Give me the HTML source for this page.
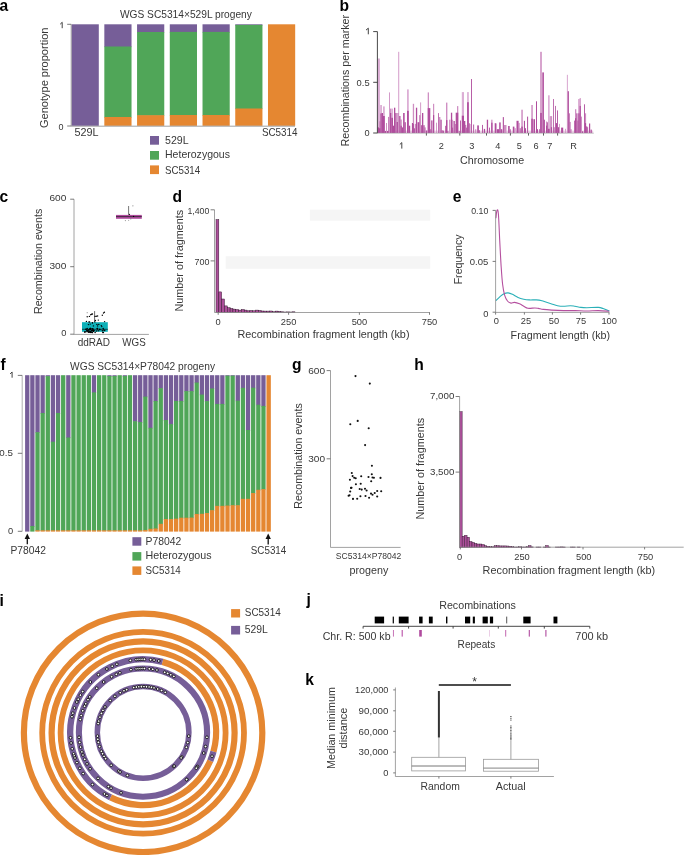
<!DOCTYPE html>
<html><head><meta charset="utf-8"><style>
html,body{margin:0;padding:0;background:#fff;}
body{width:685px;height:855px;overflow:hidden;}
svg{display:block;font-family:"Liberation Sans",sans-serif;-webkit-font-smoothing:antialiased;will-change:transform;}
</style></head><body>
<svg width="685" height="855" viewBox="0 0 685 855" fill="#383838">
<text x="-0.5" y="11" font-size="15.6" font-weight="bold" fill="#000">a</text>
<text x="185.9" y="18.2" font-size="10.6" text-anchor="middle" textLength="132" lengthAdjust="spacingAndGlyphs">WGS SC5314×529L progeny</text>
<text transform="translate(48.4 77.8) rotate(-90)" x="0" y="0" text-anchor="middle" font-size="10.6" textLength="100.4" lengthAdjust="spacingAndGlyphs">Genotype proportion</text>
<rect x="71.6" y="24.3" width="27.2" height="101.5" fill="#765e98"/>
<rect x="104.33" y="24.3" width="27.2" height="22.8" fill="#765e98"/>
<rect x="104.33" y="46.5" width="27.2" height="71.1" fill="#50a658"/>
<rect x="104.33" y="117" width="27.2" height="8.8" fill="#e58731"/>
<rect x="137.06" y="24.3" width="27.2" height="8.3" fill="#765e98"/>
<rect x="137.06" y="32" width="27.2" height="83.8" fill="#50a658"/>
<rect x="137.06" y="115.2" width="27.2" height="10.6" fill="#e58731"/>
<rect x="169.79" y="24.3" width="27.2" height="8.2" fill="#765e98"/>
<rect x="169.79" y="31.9" width="27.2" height="83.7" fill="#50a658"/>
<rect x="169.79" y="115" width="27.2" height="10.8" fill="#e58731"/>
<rect x="202.52" y="24.3" width="27.2" height="8.2" fill="#765e98"/>
<rect x="202.52" y="31.9" width="27.2" height="83.7" fill="#50a658"/>
<rect x="202.52" y="115" width="27.2" height="10.8" fill="#e58731"/>
<rect x="235.25" y="24.3" width="27.2" height="1.2" fill="#765e98"/>
<rect x="235.25" y="24.9" width="27.2" height="84.2" fill="#50a658"/>
<rect x="235.25" y="108.5" width="27.2" height="17.3" fill="#e58731"/>
<rect x="267.98" y="24.3" width="27.2" height="101.5" fill="#e58731"/>
<line x1="71.2" y1="24.3" x2="71.2" y2="126.2" stroke="#8a8a8a" stroke-width="0.8"/>
<line x1="67.2" y1="24.3" x2="71.2" y2="24.3" stroke="#5a5a5a" stroke-width="0.8"/>
<line x1="67.2" y1="126" x2="71.2" y2="126" stroke="#5a5a5a" stroke-width="0.8"/>
<line x1="71.2" y1="126.2" x2="295" y2="126.2" stroke="#8a8a8a" stroke-width="0.8"/>
<path d="M60.2 24.2 L62.2 22.3 L62.2 28.2" fill="none" stroke="#383838" stroke-width="0.95" stroke-linejoin="miter"/>
<text x="63.5" y="129.6" font-size="9" text-anchor="end">0</text>
<text x="74.4" y="135.6" font-size="10.6" textLength="24.1" lengthAdjust="spacingAndGlyphs">529L</text>
<text x="261.9" y="135.6" font-size="10.6" textLength="35.7" lengthAdjust="spacingAndGlyphs">SC5314</text>
<rect x="150" y="136" width="9" height="8.7" fill="#765e98"/>
<text x="165" y="144.3" font-size="10.6" textLength="23.6" lengthAdjust="spacingAndGlyphs">529L</text>
<rect x="150" y="151" width="9" height="8.7" fill="#50a658"/>
<text x="165" y="157.9" font-size="10.1" textLength="65" lengthAdjust="spacingAndGlyphs">Heterozygous</text>
<rect x="150" y="165.4" width="9" height="8.7" fill="#e58731"/>
<text x="165" y="173.7" font-size="10.6" textLength="35.2" lengthAdjust="spacingAndGlyphs">SC5314</text>
<text x="339.4" y="10.8" font-size="15.6" font-weight="bold" fill="#000">b</text>
<text transform="translate(349 80.7) rotate(-90)" x="0" y="0" text-anchor="middle" font-size="10.7" textLength="131.6" lengthAdjust="spacingAndGlyphs">Recombinations per marker</text>
<rect x="377.6" y="130.6" width="215.6" height="2.5" fill="#ead0e5"/>
<rect x="377.6" y="58.5" width="2.3" height="74.5" fill="#dcaed5"/>
<rect x="379" y="121.3" width="1.4" height="11.7" fill="#cf8fc3"/>
<rect x="380.4" y="105" width="1.3" height="28" fill="#cf8fc3"/>
<rect x="383" y="106.4" width="1.8" height="26.6" fill="#dcaed5"/>
<rect x="386" y="123" width="1" height="10" fill="#cf8fc3"/>
<rect x="389.1" y="92.4" width="0.9" height="40.6" fill="#cf8fc3"/>
<rect x="390" y="108.6" width="1.3" height="24.4" fill="#cf8fc3"/>
<rect x="391.3" y="108.6" width="1.7" height="24.4" fill="#dcaed5"/>
<rect x="398.3" y="51.8" width="0.9" height="81.2" fill="#cf8fc3"/>
<rect x="400.5" y="119.5" width="1.3" height="13.5" fill="#cf8fc3"/>
<rect x="403.2" y="113" width="1.3" height="20" fill="#cf8fc3"/>
<rect x="407" y="89.4" width="1.8" height="43.6" fill="#dcaed5"/>
<rect x="412.8" y="103.8" width="1.3" height="29.2" fill="#cf8fc3"/>
<rect x="415" y="123.9" width="1.3" height="9.1" fill="#cf8fc3"/>
<rect x="417.2" y="122.2" width="0.8" height="10.8" fill="#cf8fc3"/>
<rect x="420.2" y="102.4" width="0.9" height="30.6" fill="#cf8fc3"/>
<rect x="427.7" y="92.4" width="1.3" height="40.6" fill="#cf8fc3"/>
<rect x="433" y="103.8" width="1.2" height="29.2" fill="#cf8fc3"/>
<rect x="436" y="122.7" width="0.9" height="10.3" fill="#cf8fc3"/>
<rect x="439" y="117" width="1.4" height="16" fill="#cf8fc3"/>
<rect x="446" y="102.6" width="1.4" height="30.4" fill="#cf8fc3"/>
<rect x="449.1" y="119.7" width="1.4" height="13.3" fill="#cf8fc3"/>
<rect x="452.2" y="119.7" width="0.9" height="13.3" fill="#cf8fc3"/>
<rect x="454.8" y="124" width="1.3" height="9" fill="#cf8fc3"/>
<rect x="457" y="106.1" width="1.3" height="26.9" fill="#cf8fc3"/>
<rect x="461.8" y="92.1" width="2.2" height="40.9" fill="#dcaed5"/>
<rect x="467.1" y="92.1" width="1.7" height="40.9" fill="#dcaed5"/>
<rect x="469.7" y="124" width="0.9" height="9" fill="#cf8fc3"/>
<rect x="475" y="129.3" width="1.3" height="3.7" fill="#cf8fc3"/>
<rect x="491.2" y="119.7" width="1.3" height="13.3" fill="#cf8fc3"/>
<rect x="496" y="123.4" width="0.8" height="9.6" fill="#cf8fc3"/>
<rect x="503.9" y="125" width="1.1" height="8" fill="#cf8fc3"/>
<rect x="505" y="125" width="1.5" height="8" fill="#cf8fc3"/>
<rect x="514.4" y="128.2" width="1.6" height="4.8" fill="#dcaed5"/>
<rect x="518.6" y="122.9" width="1.1" height="10.1" fill="#cf8fc3"/>
<rect x="521.3" y="109.7" width="1.5" height="23.3" fill="#cf8fc3"/>
<rect x="531.3" y="105" width="1.5" height="28" fill="#cf8fc3"/>
<rect x="540.2" y="51.8" width="1.6" height="81.2" fill="#cf8fc3"/>
<rect x="546" y="121.5" width="1.2" height="11.5" fill="#cf8fc3"/>
<rect x="548" y="95.3" width="1.7" height="37.7" fill="#dcaed5"/>
<rect x="549.7" y="116.1" width="1.2" height="16.9" fill="#cf8fc3"/>
<rect x="550.9" y="116.1" width="1.2" height="16.9" fill="#cf8fc3"/>
<rect x="559.1" y="123.9" width="0.8" height="9.1" fill="#cf8fc3"/>
<rect x="565.2" y="128.8" width="0.8" height="4.2" fill="#cf8fc3"/>
<rect x="566.9" y="74.8" width="0.8" height="58.2" fill="#cf8fc3"/>
<rect x="570.5" y="129.2" width="1.2" height="3.8" fill="#cf8fc3"/>
<rect x="575" y="109.2" width="1.3" height="23.8" fill="#cf8fc3"/>
<rect x="578.3" y="99" width="1.3" height="34" fill="#cf8fc3"/>
<rect x="579.6" y="98.1" width="1.2" height="34.9" fill="#cf8fc3"/>
<rect x="580.8" y="116.6" width="1.2" height="16.4" fill="#cf8fc3"/>
<rect x="584.9" y="113.3" width="1.2" height="19.7" fill="#cf8fc3"/>
<rect x="377.8" y="127.4" width="1.2" height="5.6" fill="#b04d9d"/>
<rect x="379" y="128.3" width="1.4" height="4.7" fill="#b04d9d"/>
<rect x="380.4" y="113.4" width="1.3" height="19.6" fill="#b04d9d"/>
<rect x="381.7" y="113" width="1.3" height="20" fill="#b04d9d"/>
<rect x="383" y="116" width="1.8" height="17" fill="#b04d9d"/>
<rect x="384.8" y="131" width="1.2" height="2" fill="#b04d9d"/>
<rect x="387" y="131" width="1.3" height="2" fill="#b04d9d"/>
<rect x="388.3" y="116.9" width="0.8" height="16.1" fill="#b04d9d"/>
<rect x="390" y="113" width="1.3" height="20" fill="#b04d9d"/>
<rect x="391.3" y="117.8" width="1.7" height="15.2" fill="#b04d9d"/>
<rect x="393" y="125.7" width="1.4" height="7.3" fill="#b04d9d"/>
<rect x="394" y="107.7" width="1.3" height="25.3" fill="#b04d9d"/>
<rect x="395.3" y="113" width="1.3" height="20" fill="#b04d9d"/>
<rect x="396.6" y="122" width="1.3" height="11" fill="#b04d9d"/>
<rect x="397.5" y="113" width="0.8" height="20" fill="#b04d9d"/>
<rect x="399.2" y="116" width="1.3" height="17" fill="#b04d9d"/>
<rect x="400.5" y="125.7" width="1.3" height="7.3" fill="#b04d9d"/>
<rect x="401.8" y="127.4" width="1.4" height="5.6" fill="#b04d9d"/>
<rect x="403.2" y="113" width="1.3" height="20" fill="#b04d9d"/>
<rect x="404.5" y="122.2" width="1.3" height="10.8" fill="#b04d9d"/>
<rect x="407" y="110.8" width="1.8" height="22.2" fill="#b04d9d"/>
<rect x="408.8" y="125.7" width="1.4" height="7.3" fill="#b04d9d"/>
<rect x="411.9" y="123" width="1.3" height="10" fill="#b04d9d"/>
<rect x="413.2" y="124" width="0.9" height="9" fill="#b04d9d"/>
<rect x="414.1" y="128.3" width="0.9" height="4.7" fill="#b04d9d"/>
<rect x="415.9" y="107.7" width="1.3" height="25.3" fill="#b04d9d"/>
<rect x="418" y="122.2" width="1.4" height="10.8" fill="#b04d9d"/>
<rect x="419.4" y="115.1" width="0.8" height="17.9" fill="#b04d9d"/>
<rect x="421.1" y="125.2" width="0.9" height="7.8" fill="#b04d9d"/>
<rect x="422" y="113" width="1.3" height="20" fill="#b04d9d"/>
<rect x="423.3" y="125.2" width="1.3" height="7.8" fill="#b04d9d"/>
<rect x="424.6" y="127.4" width="0.9" height="5.6" fill="#b04d9d"/>
<rect x="426" y="130.5" width="1.2" height="2.5" fill="#b04d9d"/>
<rect x="427.7" y="108.1" width="1.3" height="24.9" fill="#b04d9d"/>
<rect x="429" y="108.1" width="1.3" height="24.9" fill="#b04d9d"/>
<rect x="430.3" y="129.2" width="0.9" height="3.8" fill="#b04d9d"/>
<rect x="431.2" y="120.4" width="1.3" height="12.6" fill="#b04d9d"/>
<rect x="433" y="115.1" width="1.2" height="17.9" fill="#b04d9d"/>
<rect x="438.2" y="113.1" width="0.8" height="19.9" fill="#b04d9d"/>
<rect x="440.4" y="119.7" width="1.3" height="13.3" fill="#b04d9d"/>
<rect x="441.7" y="130.2" width="0.9" height="2.8" fill="#b04d9d"/>
<rect x="442.6" y="130.6" width="1.3" height="2.4" fill="#b04d9d"/>
<rect x="445.2" y="125.8" width="0.8" height="7.2" fill="#b04d9d"/>
<rect x="446" y="120.1" width="1.4" height="12.9" fill="#b04d9d"/>
<rect x="447.4" y="131" width="0.9" height="2" fill="#b04d9d"/>
<rect x="450.9" y="112.7" width="1.3" height="20.3" fill="#b04d9d"/>
<rect x="452.2" y="127.6" width="0.9" height="5.4" fill="#b04d9d"/>
<rect x="453.5" y="121" width="1.3" height="12" fill="#b04d9d"/>
<rect x="455.7" y="112.7" width="1.3" height="20.3" fill="#b04d9d"/>
<rect x="457" y="112.7" width="1.3" height="20.3" fill="#b04d9d"/>
<rect x="458.8" y="131" width="0.9" height="2" fill="#b04d9d"/>
<rect x="460.1" y="120.5" width="0.9" height="12.5" fill="#b04d9d"/>
<rect x="461.8" y="115.7" width="2.2" height="17.3" fill="#b04d9d"/>
<rect x="464" y="121" width="1.3" height="12" fill="#b04d9d"/>
<rect x="465.3" y="124.9" width="0.9" height="8.1" fill="#b04d9d"/>
<rect x="466.2" y="127.6" width="0.9" height="5.4" fill="#b04d9d"/>
<rect x="467.1" y="102.2" width="1.7" height="30.8" fill="#b04d9d"/>
<rect x="468.8" y="123.2" width="0.9" height="9.8" fill="#b04d9d"/>
<rect x="471" y="79" width="0.9" height="54" fill="#b04d9d"/>
<rect x="473.2" y="124.5" width="0.9" height="8.5" fill="#b04d9d"/>
<rect x="477.2" y="125.4" width="1.7" height="7.6" fill="#b04d9d"/>
<rect x="478.9" y="130.2" width="0.9" height="2.8" fill="#b04d9d"/>
<rect x="482" y="124.9" width="0.9" height="8.1" fill="#b04d9d"/>
<rect x="483.8" y="128.9" width="1.3" height="4.1" fill="#b04d9d"/>
<rect x="486.8" y="119.7" width="1.3" height="13.3" fill="#b04d9d"/>
<rect x="489" y="127.6" width="0.9" height="5.4" fill="#b04d9d"/>
<rect x="491.2" y="122.7" width="1.3" height="10.3" fill="#b04d9d"/>
<rect x="494.7" y="123.2" width="1.3" height="9.8" fill="#b04d9d"/>
<rect x="496.8" y="129.2" width="2.4" height="3.8" fill="#b04d9d"/>
<rect x="499.2" y="122.4" width="1.5" height="10.6" fill="#b04d9d"/>
<rect x="500.7" y="129.2" width="1.6" height="3.8" fill="#b04d9d"/>
<rect x="502.8" y="117.1" width="1.1" height="15.9" fill="#b04d9d"/>
<rect x="508.1" y="126" width="1.6" height="7" fill="#b04d9d"/>
<rect x="509.7" y="129.2" width="1" height="3.8" fill="#b04d9d"/>
<rect x="512.8" y="126.6" width="1.6" height="6.4" fill="#b04d9d"/>
<rect x="516.5" y="120.8" width="2.1" height="12.2" fill="#b04d9d"/>
<rect x="519.7" y="128.2" width="1" height="4.8" fill="#b04d9d"/>
<rect x="521.3" y="126.6" width="1.5" height="6.4" fill="#b04d9d"/>
<rect x="523.9" y="120.8" width="1.1" height="12.2" fill="#b04d9d"/>
<rect x="525" y="128.2" width="1" height="4.8" fill="#b04d9d"/>
<rect x="527.1" y="116.6" width="1" height="16.4" fill="#b04d9d"/>
<rect x="531.3" y="118.7" width="1.5" height="14.3" fill="#b04d9d"/>
<rect x="533.4" y="119.2" width="1.6" height="13.8" fill="#b04d9d"/>
<rect x="536" y="101.3" width="1" height="31.7" fill="#b04d9d"/>
<rect x="537" y="129.2" width="1" height="3.8" fill="#b04d9d"/>
<rect x="539.2" y="129.2" width="1" height="3.8" fill="#b04d9d"/>
<rect x="540.2" y="112.9" width="1.6" height="20.1" fill="#b04d9d"/>
<rect x="542.3" y="72.4" width="1.6" height="60.6" fill="#b04d9d"/>
<rect x="543.9" y="119.7" width="1" height="13.3" fill="#b04d9d"/>
<rect x="546" y="125.6" width="1.2" height="7.4" fill="#b04d9d"/>
<rect x="547.2" y="122.3" width="0.8" height="10.7" fill="#b04d9d"/>
<rect x="548" y="128.8" width="1.7" height="4.2" fill="#b04d9d"/>
<rect x="550.9" y="127.2" width="1.2" height="5.8" fill="#b04d9d"/>
<rect x="553" y="99" width="0.8" height="34" fill="#b04d9d"/>
<rect x="553.8" y="127.2" width="0.8" height="5.8" fill="#b04d9d"/>
<rect x="555" y="105.9" width="0.8" height="27.1" fill="#b04d9d"/>
<rect x="555.8" y="123.1" width="1.2" height="9.9" fill="#b04d9d"/>
<rect x="557" y="110.4" width="0.9" height="22.6" fill="#b04d9d"/>
<rect x="557.9" y="127.2" width="1.2" height="5.8" fill="#b04d9d"/>
<rect x="561.1" y="127.6" width="2.1" height="5.4" fill="#b04d9d"/>
<rect x="567.7" y="91.2" width="1.2" height="41.8" fill="#b04d9d"/>
<rect x="568.9" y="113.3" width="0.8" height="19.7" fill="#b04d9d"/>
<rect x="569.7" y="121.9" width="0.8" height="11.1" fill="#b04d9d"/>
<rect x="574.2" y="120.6" width="0.8" height="12.4" fill="#b04d9d"/>
<rect x="575" y="118.2" width="1.3" height="14.8" fill="#b04d9d"/>
<rect x="576.3" y="113.3" width="1.2" height="19.7" fill="#b04d9d"/>
<rect x="577.5" y="120.6" width="0.8" height="12.4" fill="#b04d9d"/>
<rect x="578.3" y="113.3" width="1.3" height="19.7" fill="#b04d9d"/>
<rect x="579.6" y="105.9" width="1.2" height="27.1" fill="#b04d9d"/>
<rect x="582" y="131.3" width="1.2" height="1.7" fill="#b04d9d"/>
<rect x="584" y="104.3" width="0.9" height="28.7" fill="#b04d9d"/>
<rect x="584.9" y="123.1" width="1.2" height="9.9" fill="#b04d9d"/>
<rect x="586.1" y="126.4" width="1.2" height="6.6" fill="#b04d9d"/>
<rect x="587.3" y="127.2" width="0.8" height="5.8" fill="#b04d9d"/>
<rect x="589" y="123.5" width="1.2" height="9.5" fill="#b04d9d"/>
<rect x="590.6" y="129.6" width="1.2" height="3.4" fill="#b04d9d"/>
<line x1="377.4" y1="31.6" x2="377.4" y2="133.2" stroke="#333" stroke-width="0.9"/>
<line x1="373.2" y1="31.6" x2="377.4" y2="31.6" stroke="#333" stroke-width="0.9"/>
<line x1="373.2" y1="82.3" x2="377.4" y2="82.3" stroke="#333" stroke-width="0.9"/>
<line x1="373.2" y1="133" x2="377.4" y2="133" stroke="#333" stroke-width="0.9"/>
<line x1="377.4" y1="133.2" x2="593.8" y2="133.2" stroke="#9a9a9a" stroke-width="0.6"/>
<line x1="426.4" y1="133.2" x2="426.4" y2="135.6" stroke="#333" stroke-width="0.8"/>
<line x1="459.8" y1="133.2" x2="459.8" y2="135.6" stroke="#333" stroke-width="0.8"/>
<line x1="486.5" y1="133.2" x2="486.5" y2="135.6" stroke="#333" stroke-width="0.8"/>
<line x1="510.4" y1="133.2" x2="510.4" y2="135.6" stroke="#333" stroke-width="0.8"/>
<line x1="528.5" y1="133.2" x2="528.5" y2="135.6" stroke="#333" stroke-width="0.8"/>
<line x1="543.5" y1="133.2" x2="543.5" y2="135.6" stroke="#333" stroke-width="0.8"/>
<line x1="557.6" y1="133.2" x2="557.6" y2="135.6" stroke="#333" stroke-width="0.8"/>
<path d="M366 30.1 L368.3 28.2 L368.3 34.3" fill="none" stroke="#383838" stroke-width="0.95" stroke-linejoin="miter"/>
<text x="369.6" y="85.7" font-size="9.2" text-anchor="end" textLength="13" lengthAdjust="spacingAndGlyphs">0.5</text>
<text x="369.6" y="136.3" font-size="9.2" text-anchor="end">0</text>
<path d="M399.8 144.5 L401.8 142.6 L401.8 148.6" fill="none" stroke="#383838" stroke-width="0.95" stroke-linejoin="miter"/>
<text x="441.3" y="149" font-size="9.2" text-anchor="middle">2</text>
<text x="471.8" y="149" font-size="9.2" text-anchor="middle">3</text>
<text x="497.9" y="149" font-size="9.2" text-anchor="middle">4</text>
<text x="519.4" y="149" font-size="9.2" text-anchor="middle">5</text>
<text x="536.1" y="149" font-size="9.2" text-anchor="middle">6</text>
<text x="549.9" y="149" font-size="9.2" text-anchor="middle">7</text>
<text x="573.6" y="149" font-size="9.2" text-anchor="middle">R</text>
<text x="460" y="164.4" font-size="10.7" textLength="64.2" lengthAdjust="spacingAndGlyphs">Chromosome</text>
<text x="-0.5" y="202.3" font-size="15.6" font-weight="bold" fill="#000">c</text>
<text transform="translate(42.2 261.4) rotate(-90)" x="0" y="0" text-anchor="middle" font-size="10.7" textLength="105.2" lengthAdjust="spacingAndGlyphs">Recombination events</text>
<line x1="74" y1="199.2" x2="74" y2="334.4" stroke="#8a8a8a" stroke-width="0.8"/>
<line x1="70.2" y1="199.2" x2="74" y2="199.2" stroke="#5a5a5a" stroke-width="0.8"/>
<line x1="70.2" y1="266.7" x2="74" y2="266.7" stroke="#5a5a5a" stroke-width="0.8"/>
<line x1="70.2" y1="334.2" x2="74" y2="334.2" stroke="#5a5a5a" stroke-width="0.8"/>
<line x1="74" y1="334.4" x2="148.9" y2="334.4" stroke="#8a8a8a" stroke-width="0.8"/>
<text x="66.3" y="201.3" font-size="9.3" text-anchor="end" textLength="16.9" lengthAdjust="spacingAndGlyphs">600</text>
<text x="66.3" y="268.8" font-size="9.3" text-anchor="end" textLength="16.9" lengthAdjust="spacingAndGlyphs">300</text>
<text x="66.3" y="336.4" font-size="9.3" text-anchor="end">0</text>
<line x1="94.6" y1="311.1" x2="94.6" y2="322.5" stroke="#444" stroke-width="0.8"/>
<rect x="82" y="322.2" width="25.8" height="9.6" fill="#0db0b8"/>
<line x1="82" y1="329.3" x2="107.8" y2="329.3" stroke="#0b4a50" stroke-width="1"/>
<circle cx="87.2" cy="316.7" r="0.7" fill="#000"/>
<circle cx="89.4" cy="316.4" r="0.7" fill="#000"/>
<circle cx="90.7" cy="314.7" r="0.7" fill="#000"/>
<circle cx="91.6" cy="314.3" r="0.7" fill="#000"/>
<circle cx="92.4" cy="314" r="0.7" fill="#000"/>
<circle cx="95.1" cy="316.4" r="0.7" fill="#000"/>
<circle cx="96.3" cy="316.2" r="0.7" fill="#000"/>
<circle cx="97.6" cy="316" r="0.7" fill="#000"/>
<circle cx="95.4" cy="320.4" r="0.7" fill="#000"/>
<circle cx="98.3" cy="320.1" r="0.7" fill="#000"/>
<circle cx="102.3" cy="315.2" r="0.7" fill="#000"/>
<circle cx="103.5" cy="313" r="0.7" fill="#000"/>
<circle cx="104.4" cy="312.3" r="0.7" fill="#000"/>
<circle cx="86.4" cy="321.4" r="0.7" fill="#000"/>
<circle cx="88.9" cy="321.9" r="0.7" fill="#000"/>
<circle cx="89.6" cy="321.9" r="0.7" fill="#000"/>
<circle cx="92.4" cy="322.6" r="0.7" fill="#000"/>
<circle cx="104.6" cy="321.6" r="0.7" fill="#000"/>
<circle cx="94.9" cy="321.9" r="0.7" fill="#000"/>
<circle cx="88.4" cy="324.6" r="0.7" fill="#000"/>
<circle cx="90.2" cy="324.1" r="0.7" fill="#000"/>
<circle cx="92.4" cy="323.1" r="0.7" fill="#000"/>
<circle cx="93.4" cy="325.9" r="0.7" fill="#000"/>
<circle cx="96.9" cy="324.4" r="0.7" fill="#000"/>
<circle cx="97.6" cy="325.9" r="0.7" fill="#000"/>
<circle cx="98.8" cy="324.4" r="0.7" fill="#000"/>
<circle cx="101.3" cy="325.6" r="0.7" fill="#000"/>
<circle cx="101.8" cy="326.6" r="0.7" fill="#000"/>
<circle cx="87.2" cy="312.7" r="0.6" fill="#999"/>
<circle cx="86.64" cy="330.64" r="0.75" fill="#000"/>
<circle cx="87.83" cy="330.9" r="0.75" fill="#000"/>
<circle cx="90.13" cy="328.58" r="0.75" fill="#000"/>
<circle cx="84.62" cy="331.9" r="0.75" fill="#000"/>
<circle cx="86.83" cy="329.31" r="0.75" fill="#000"/>
<circle cx="93.46" cy="330.32" r="0.75" fill="#000"/>
<circle cx="92.03" cy="330.35" r="0.75" fill="#000"/>
<circle cx="90.25" cy="328.95" r="0.75" fill="#000"/>
<circle cx="90.21" cy="332.03" r="0.75" fill="#000"/>
<circle cx="89.21" cy="331.49" r="0.75" fill="#000"/>
<circle cx="90.54" cy="328.58" r="0.75" fill="#000"/>
<circle cx="91.32" cy="330.84" r="0.75" fill="#000"/>
<circle cx="87.21" cy="328.43" r="0.75" fill="#000"/>
<circle cx="92.29" cy="330.33" r="0.75" fill="#000"/>
<circle cx="90.97" cy="332.08" r="0.75" fill="#000"/>
<circle cx="90.93" cy="332.26" r="0.75" fill="#000"/>
<circle cx="88.05" cy="331.74" r="0.75" fill="#000"/>
<circle cx="88.5" cy="332.32" r="0.75" fill="#000"/>
<circle cx="92.41" cy="328.72" r="0.75" fill="#000"/>
<circle cx="85.72" cy="329.23" r="0.75" fill="#000"/>
<circle cx="93.19" cy="330.18" r="0.75" fill="#000"/>
<circle cx="90.14" cy="329.59" r="0.75" fill="#000"/>
<circle cx="89.07" cy="329.96" r="0.75" fill="#000"/>
<circle cx="87.66" cy="330.82" r="0.75" fill="#000"/>
<circle cx="89.76" cy="332.19" r="0.75" fill="#000"/>
<circle cx="90.64" cy="332.29" r="0.75" fill="#000"/>
<circle cx="92.21" cy="332.56" r="0.75" fill="#000"/>
<circle cx="90.54" cy="329" r="0.75" fill="#000"/>
<circle cx="92.25" cy="332.45" r="0.75" fill="#000"/>
<circle cx="92.64" cy="330.75" r="0.75" fill="#000"/>
<circle cx="99.7" cy="329.21" r="0.75" fill="#000"/>
<circle cx="102.3" cy="330.77" r="0.75" fill="#000"/>
<circle cx="90.27" cy="328.57" r="0.75" fill="#000"/>
<circle cx="102.79" cy="332.56" r="0.75" fill="#000"/>
<circle cx="85.95" cy="331.74" r="0.75" fill="#000"/>
<circle cx="93.03" cy="328.95" r="0.75" fill="#000"/>
<circle cx="90.47" cy="331.61" r="0.75" fill="#000"/>
<circle cx="103.2" cy="328.49" r="0.75" fill="#000"/>
<circle cx="97.52" cy="328.49" r="0.75" fill="#000"/>
<circle cx="99.81" cy="329.72" r="0.75" fill="#000"/>
<circle cx="103.38" cy="332.52" r="0.75" fill="#000"/>
<circle cx="95.12" cy="332.59" r="0.75" fill="#000"/>
<circle cx="90.81" cy="328.63" r="0.75" fill="#000"/>
<circle cx="97.19" cy="328.43" r="0.75" fill="#000"/>
<circle cx="88.34" cy="330.05" r="0.75" fill="#000"/>
<circle cx="97.43" cy="328.97" r="0.75" fill="#000"/>
<circle cx="84.93" cy="332.03" r="0.75" fill="#000"/>
<circle cx="90.9" cy="332.42" r="0.75" fill="#000"/>
<circle cx="103.73" cy="329.92" r="0.75" fill="#000"/>
<circle cx="94.13" cy="330.54" r="0.75" fill="#000"/>
<circle cx="98.17" cy="330.86" r="0.75" fill="#000"/>
<circle cx="96.3" cy="330.97" r="0.75" fill="#000"/>
<circle cx="104.69" cy="330.48" r="0.75" fill="#000"/>
<circle cx="93.49" cy="331.4" r="0.75" fill="#000"/>
<circle cx="89.23" cy="329.59" r="0.75" fill="#000"/>
<line x1="128.6" y1="206" x2="128.6" y2="215" stroke="#555" stroke-width="0.8"/>
<rect x="116" y="214.9" width="25.8" height="3.9" fill="#b04c9f"/>
<line x1="116" y1="216.6" x2="141.8" y2="216.6" stroke="#3a2538" stroke-width="0.9"/>
<circle cx="132.9" cy="205.8" r="0.6" fill="#888"/>
<circle cx="129.5" cy="214.3" r="0.6" fill="#000"/>
<circle cx="133.6" cy="216.4" r="0.6" fill="#000"/>
<circle cx="130.8" cy="218.8" r="0.6" fill="#777"/>
<circle cx="125.4" cy="220.6" r="0.6" fill="#999"/>
<circle cx="128.6" cy="220.3" r="0.6" fill="#aaa"/>
<text x="77.7" y="346.4" font-size="10.7" textLength="32.3" lengthAdjust="spacingAndGlyphs">ddRAD</text>
<text x="122.3" y="346.4" font-size="10.7" textLength="23.4" lengthAdjust="spacingAndGlyphs">WGS</text>
<text x="172.6" y="202.1" font-size="15.6" font-weight="bold" fill="#000">d</text>
<rect x="309.9" y="209.7" width="120.3" height="11" fill="#f5f5f5"/>
<rect x="225.7" y="256.2" width="204.5" height="12.6" fill="#f5f5f5"/>
<text transform="translate(182.6 260.7) rotate(-90)" x="0" y="0" text-anchor="middle" font-size="10.7" textLength="101.8" lengthAdjust="spacingAndGlyphs">Number of fragments</text>
<rect x="216" y="219.6" width="2.82" height="92.7" fill="#ab4f99" stroke="#2a1027" stroke-width="0.45"/>
<rect x="218.82" y="291.9" width="2.82" height="20.4" fill="#ab4f99" stroke="#2a1027" stroke-width="0.45"/>
<rect x="221.64" y="299" width="2.82" height="13.3" fill="#ab4f99" stroke="#2a1027" stroke-width="0.45"/>
<rect x="224.46" y="305.9" width="2.82" height="6.4" fill="#ab4f99" stroke="#2a1027" stroke-width="0.45"/>
<rect x="227.28" y="307.7" width="2.82" height="4.6" fill="#ab4f99" stroke="#2a1027" stroke-width="0.45"/>
<rect x="230.1" y="308.5" width="2.82" height="3.8" fill="#ab4f99" stroke="#2a1027" stroke-width="0.45"/>
<rect x="232.92" y="309.1" width="2.82" height="3.2" fill="#ab4f99" stroke="#2a1027" stroke-width="0.45"/>
<rect x="235.74" y="309.5" width="2.82" height="2.8" fill="#ab4f99" stroke="#2a1027" stroke-width="0.45"/>
<rect x="238.56" y="310.1" width="2.82" height="2.2" fill="#ab4f99" stroke="#2a1027" stroke-width="0.45"/>
<rect x="241.38" y="309.5" width="2.82" height="2.8" fill="#ab4f99" stroke="#2a1027" stroke-width="0.45"/>
<rect x="244.2" y="310.1" width="2.82" height="2.2" fill="#ab4f99" stroke="#2a1027" stroke-width="0.45"/>
<rect x="247.02" y="310.8" width="2.82" height="1.5" fill="#ab4f99" stroke="#2a1027" stroke-width="0.45"/>
<rect x="249.84" y="310.5" width="2.82" height="1.8" fill="#ab4f99" stroke="#2a1027" stroke-width="0.45"/>
<rect x="252.66" y="310.8" width="2.82" height="1.5" fill="#ab4f99" stroke="#2a1027" stroke-width="0.45"/>
<rect x="255.48" y="310.1" width="2.82" height="2.2" fill="#ab4f99" stroke="#2a1027" stroke-width="0.45"/>
<rect x="258.3" y="310.5" width="2.82" height="1.8" fill="#ab4f99" stroke="#2a1027" stroke-width="0.45"/>
<rect x="261.12" y="311" width="2.82" height="1.3" fill="#ab4f99" stroke="#2a1027" stroke-width="0.45"/>
<rect x="263.94" y="311.1" width="2.82" height="1.2" fill="#ab4f99" stroke="#2a1027" stroke-width="0.45"/>
<rect x="266.76" y="311.1" width="2.82" height="1.2" fill="#ab4f99" stroke="#2a1027" stroke-width="0.45"/>
<rect x="269.58" y="311" width="2.82" height="1.3" fill="#ab4f99" stroke="#2a1027" stroke-width="0.45"/>
<rect x="272.4" y="311.7" width="2.82" height="0.6" fill="#ab4f99" stroke="#2a1027" stroke-width="0.45"/>
<rect x="275.22" y="311.1" width="2.82" height="1.2" fill="#ab4f99" stroke="#2a1027" stroke-width="0.45"/>
<rect x="278.04" y="311.4" width="2.82" height="0.9" fill="#ab4f99" stroke="#2a1027" stroke-width="0.45"/>
<rect x="280.86" y="311.8" width="2.82" height="0.5" fill="#ab4f99" stroke="#2a1027" stroke-width="0.45"/>
<rect x="283.68" y="312" width="2.82" height="0.3" fill="#ab4f99" stroke="#2a1027" stroke-width="0.45"/>
<rect x="286.5" y="311.9" width="2.82" height="0.4" fill="#ab4f99" stroke="#2a1027" stroke-width="0.45"/>
<rect x="289.32" y="312" width="2.82" height="0.3" fill="#ab4f99" stroke="#2a1027" stroke-width="0.45"/>
<rect x="292.14" y="311.8" width="2.82" height="0.5" fill="#ab4f99" stroke="#2a1027" stroke-width="0.45"/>
<line x1="214.5" y1="209.8" x2="214.5" y2="312.5" stroke="#8a8a8a" stroke-width="0.8"/>
<line x1="210.6" y1="209.8" x2="214.5" y2="209.8" stroke="#5a5a5a" stroke-width="0.8"/>
<line x1="210.6" y1="260.9" x2="214.5" y2="260.9" stroke="#5a5a5a" stroke-width="0.8"/>
<line x1="214.5" y1="312.5" x2="430" y2="312.5" stroke="#8a8a8a" stroke-width="0.8"/>
<line x1="218.2" y1="312.5" x2="218.2" y2="314.8" stroke="#5a5a5a" stroke-width="0.8"/>
<line x1="288.6" y1="312.5" x2="288.6" y2="314.8" stroke="#5a5a5a" stroke-width="0.8"/>
<line x1="359.4" y1="312.5" x2="359.4" y2="314.8" stroke="#5a5a5a" stroke-width="0.8"/>
<line x1="429.5" y1="312.5" x2="429.5" y2="314.8" stroke="#5a5a5a" stroke-width="0.8"/>
<text x="209.4" y="213.8" font-size="9.3" text-anchor="end" textLength="22" lengthAdjust="spacingAndGlyphs">1,400</text>
<text x="209.4" y="264.9" font-size="9.3" text-anchor="end" textLength="14.9" lengthAdjust="spacingAndGlyphs">700</text>
<text x="218.2" y="324.5" font-size="9.3" text-anchor="middle">0</text>
<text x="288.6" y="324.5" font-size="9.3" text-anchor="middle">250</text>
<text x="359.4" y="324.5" font-size="9.3" text-anchor="middle">500</text>
<text x="429.5" y="324.5" font-size="9.3" text-anchor="middle">750</text>
<text x="237.5" y="338.4" font-size="10.7" textLength="172" lengthAdjust="spacingAndGlyphs">Recombination fragment length (kb)</text>
<text x="452.8" y="201.6" font-size="15.6" font-weight="bold" fill="#000">e</text>
<text transform="translate(461.9 259.4) rotate(-90)" x="0" y="0" text-anchor="middle" font-size="10.7" textLength="49.9" lengthAdjust="spacingAndGlyphs">Frequency</text>
<path d="M495.9 300.7 C496.55 300.05 498.45 297.97 499.8 296.8 C501.15 295.63 502.6 294.35 504 293.7 C505.4 293.05 506.8 292.8 508.2 292.9 C509.6 293 510.75 293.53 512.4 294.3 C514.05 295.07 516.22 296.68 518.1 297.5 C519.98 298.32 521.83 298.8 523.7 299.2 C525.57 299.6 527.2 299.78 529.3 299.9 C531.4 300.02 534.2 299.77 536.3 299.9 C538.4 300.03 540.32 300.35 541.9 300.7 C543.48 301.05 544.17 301.47 545.8 302 C547.43 302.53 549.75 303.28 551.7 303.9 C553.65 304.52 555.55 305.3 557.5 305.7 C559.45 306.1 561.25 306.3 563.4 306.3 C565.55 306.3 568.47 305.7 570.4 305.7 C572.33 305.7 573.25 306.02 575 306.3 C576.75 306.58 578.95 307.17 580.9 307.4 C582.85 307.63 583.78 307.7 586.7 307.7 C589.62 307.7 595.67 307.25 598.4 307.4 C601.13 307.55 601.28 308 603.1 308.6 C604.92 309.2 608.27 310.6 609.3 311" fill="none" stroke="#2bb0b8" stroke-width="1.1"/>
<path d="M495.9 218.2 C496.08 216.88 496.58 211 497 210.3 C497.42 209.6 497.93 208.7 498.4 214 C498.87 219.3 499.33 233.22 499.8 242.1 C500.27 250.98 500.73 260.28 501.2 267.3 C501.67 274.32 502.02 279.52 502.6 284.2 C503.18 288.88 503.88 292.6 504.7 295.4 C505.52 298.2 506.45 299.72 507.5 301 C508.55 302.28 509.83 302.87 511 303.1 C512.17 303.33 513.08 302.28 514.5 302.4 C515.92 302.52 517.97 303.17 519.5 303.8 C521.03 304.43 522.3 305.45 523.7 306.2 C525.1 306.95 526.03 308 527.9 308.3 C529.77 308.6 533.15 307.98 534.9 308 C536.65 308.02 537 308.17 538.4 308.4 C539.8 308.63 541.08 309.12 543.3 309.4 C545.52 309.68 548.35 309.9 551.7 310.1 C555.05 310.3 559.52 310.52 563.4 310.6 C567.28 310.68 571.12 310.53 575 310.6 C578.88 310.67 582.8 311 586.7 311 C590.6 311 594.63 310.55 598.4 310.6 C602.17 310.65 607.48 311.18 609.3 311.3" fill="none" stroke="#b5509f" stroke-width="1.1"/>
<line x1="495.6" y1="210.4" x2="495.6" y2="312.4" stroke="#8a8a8a" stroke-width="0.8"/>
<line x1="492.6" y1="210.4" x2="495.6" y2="210.4" stroke="#5a5a5a" stroke-width="0.8"/>
<line x1="492.6" y1="261.4" x2="495.6" y2="261.4" stroke="#5a5a5a" stroke-width="0.8"/>
<line x1="492.6" y1="312.2" x2="495.6" y2="312.2" stroke="#5a5a5a" stroke-width="0.8"/>
<line x1="495.6" y1="312.4" x2="609.3" y2="312.4" stroke="#8a8a8a" stroke-width="0.8"/>
<line x1="495.6" y1="312.4" x2="495.6" y2="314.6" stroke="#5a5a5a" stroke-width="0.8"/>
<line x1="524.4" y1="312.4" x2="524.4" y2="314.6" stroke="#5a5a5a" stroke-width="0.8"/>
<line x1="552.4" y1="312.4" x2="552.4" y2="314.6" stroke="#5a5a5a" stroke-width="0.8"/>
<line x1="580.6" y1="312.4" x2="580.6" y2="314.6" stroke="#5a5a5a" stroke-width="0.8"/>
<line x1="609" y1="312.4" x2="609" y2="314.6" stroke="#5a5a5a" stroke-width="0.8"/>
<text x="488.3" y="214.1" font-size="9.3" text-anchor="end" textLength="17.1" lengthAdjust="spacingAndGlyphs">0.10</text>
<text x="488.3" y="265.1" font-size="9.3" text-anchor="end" textLength="18.5" lengthAdjust="spacingAndGlyphs">0.05</text>
<text x="488.3" y="316.6" font-size="9.3" text-anchor="end">0</text>
<text x="496.4" y="324.1" font-size="9.3" text-anchor="middle">0</text>
<text x="526" y="324.1" font-size="9.3" text-anchor="middle">25</text>
<text x="554" y="324.1" font-size="9.3" text-anchor="middle">50</text>
<text x="581" y="324.1" font-size="9.3" text-anchor="middle">75</text>
<text x="609.2" y="324.1" font-size="9.3" text-anchor="middle">100</text>
<text x="510.6" y="338.9" font-size="10.7" textLength="99.5" lengthAdjust="spacingAndGlyphs">Fragment length (kb)</text>
<text x="0.4" y="369.6" font-size="15.6" font-weight="bold" fill="#000">f</text>
<text x="70.1" y="369.9" font-size="10.3" textLength="144.9" lengthAdjust="spacingAndGlyphs">WGS SC5314×P78042 progeny</text>
<rect x="25.1" y="375.2" width="4.3" height="156.4" fill="#765e98"/>
<rect x="30.23" y="375.2" width="4.3" height="151.39" fill="#765e98"/>
<rect x="30.23" y="525.99" width="4.3" height="5.61" fill="#50a658"/>
<rect x="35.37" y="375.2" width="4.3" height="57.58" fill="#765e98"/>
<rect x="35.37" y="432.18" width="4.3" height="98.71" fill="#50a658"/>
<rect x="35.37" y="530.29" width="4.3" height="1.31" fill="#e58731"/>
<rect x="40.51" y="375.2" width="4.3" height="38.38" fill="#765e98"/>
<rect x="40.51" y="412.98" width="4.3" height="117.91" fill="#50a658"/>
<rect x="40.51" y="530.29" width="4.3" height="1.31" fill="#e58731"/>
<rect x="45.64" y="375.2" width="4.3" height="1.54" fill="#765e98"/>
<rect x="45.64" y="376.14" width="4.3" height="154.75" fill="#50a658"/>
<rect x="45.64" y="530.29" width="4.3" height="1.31" fill="#e58731"/>
<rect x="50.77" y="375.2" width="4.3" height="67.1" fill="#765e98"/>
<rect x="50.77" y="441.7" width="4.3" height="89.19" fill="#50a658"/>
<rect x="50.77" y="530.29" width="4.3" height="1.31" fill="#e58731"/>
<rect x="55.91" y="375.2" width="4.3" height="38.38" fill="#765e98"/>
<rect x="55.91" y="412.98" width="4.3" height="117.91" fill="#50a658"/>
<rect x="55.91" y="530.29" width="4.3" height="1.31" fill="#e58731"/>
<rect x="61.05" y="375.2" width="4.3" height="155.69" fill="#50a658"/>
<rect x="61.05" y="530.29" width="4.3" height="1.31" fill="#e58731"/>
<rect x="66.18" y="375.2" width="4.3" height="62.88" fill="#765e98"/>
<rect x="66.18" y="437.48" width="4.3" height="93.4" fill="#50a658"/>
<rect x="66.18" y="530.29" width="4.3" height="1.31" fill="#e58731"/>
<rect x="71.31" y="375.2" width="4.3" height="155.69" fill="#50a658"/>
<rect x="71.31" y="530.29" width="4.3" height="1.31" fill="#e58731"/>
<rect x="76.45" y="375.2" width="4.3" height="155.69" fill="#50a658"/>
<rect x="76.45" y="530.29" width="4.3" height="1.31" fill="#e58731"/>
<rect x="81.59" y="375.2" width="4.3" height="155.69" fill="#50a658"/>
<rect x="81.59" y="530.29" width="4.3" height="1.31" fill="#e58731"/>
<rect x="86.72" y="375.2" width="4.3" height="155.69" fill="#50a658"/>
<rect x="86.72" y="530.29" width="4.3" height="1.31" fill="#e58731"/>
<rect x="91.85" y="375.2" width="4.3" height="17.77" fill="#765e98"/>
<rect x="91.85" y="392.37" width="4.3" height="138.51" fill="#50a658"/>
<rect x="91.85" y="530.29" width="4.3" height="1.31" fill="#e58731"/>
<rect x="96.99" y="375.2" width="4.3" height="155.69" fill="#50a658"/>
<rect x="96.99" y="530.29" width="4.3" height="1.31" fill="#e58731"/>
<rect x="102.12" y="375.2" width="4.3" height="155.69" fill="#50a658"/>
<rect x="102.12" y="530.29" width="4.3" height="1.31" fill="#e58731"/>
<rect x="107.26" y="375.2" width="4.3" height="1.38" fill="#765e98"/>
<rect x="107.26" y="375.98" width="4.3" height="154.9" fill="#50a658"/>
<rect x="107.26" y="530.29" width="4.3" height="1.31" fill="#e58731"/>
<rect x="112.4" y="375.2" width="4.3" height="1.38" fill="#765e98"/>
<rect x="112.4" y="375.98" width="4.3" height="154.9" fill="#50a658"/>
<rect x="112.4" y="530.29" width="4.3" height="1.31" fill="#e58731"/>
<rect x="117.53" y="375.2" width="4.3" height="155.69" fill="#50a658"/>
<rect x="117.53" y="530.29" width="4.3" height="1.31" fill="#e58731"/>
<rect x="122.66" y="375.2" width="4.3" height="1.38" fill="#765e98"/>
<rect x="122.66" y="375.98" width="4.3" height="154.9" fill="#50a658"/>
<rect x="122.66" y="530.29" width="4.3" height="1.31" fill="#e58731"/>
<rect x="127.8" y="375.2" width="4.3" height="155.69" fill="#50a658"/>
<rect x="127.8" y="530.29" width="4.3" height="1.31" fill="#e58731"/>
<rect x="132.94" y="375.2" width="4.3" height="46.65" fill="#765e98"/>
<rect x="132.94" y="421.25" width="4.3" height="109.64" fill="#50a658"/>
<rect x="132.94" y="530.29" width="4.3" height="1.31" fill="#e58731"/>
<rect x="138.07" y="375.2" width="4.3" height="47.43" fill="#765e98"/>
<rect x="138.07" y="422.03" width="4.3" height="108.93" fill="#50a658"/>
<rect x="138.07" y="530.36" width="4.3" height="1.24" fill="#e58731"/>
<rect x="143.2" y="375.2" width="4.3" height="21.99" fill="#765e98"/>
<rect x="143.2" y="396.59" width="4.3" height="134.07" fill="#50a658"/>
<rect x="143.2" y="530.05" width="4.3" height="1.55" fill="#e58731"/>
<rect x="148.34" y="375.2" width="4.3" height="53.21" fill="#765e98"/>
<rect x="148.34" y="427.81" width="4.3" height="101.6" fill="#50a658"/>
<rect x="148.34" y="528.8" width="4.3" height="2.8" fill="#e58731"/>
<rect x="153.47" y="375.2" width="4.3" height="26.36" fill="#765e98"/>
<rect x="153.47" y="400.96" width="4.3" height="128.13" fill="#50a658"/>
<rect x="153.47" y="528.49" width="4.3" height="3.11" fill="#e58731"/>
<rect x="158.61" y="375.2" width="4.3" height="13.56" fill="#765e98"/>
<rect x="158.61" y="388.16" width="4.3" height="136.25" fill="#50a658"/>
<rect x="158.61" y="523.81" width="4.3" height="7.79" fill="#e58731"/>
<rect x="163.74" y="375.2" width="4.3" height="45.4" fill="#765e98"/>
<rect x="163.74" y="420" width="4.3" height="99.72" fill="#50a658"/>
<rect x="163.74" y="519.12" width="4.3" height="12.48" fill="#e58731"/>
<rect x="168.88" y="375.2" width="4.3" height="49.46" fill="#765e98"/>
<rect x="168.88" y="424.06" width="4.3" height="95.66" fill="#50a658"/>
<rect x="168.88" y="519.12" width="4.3" height="12.48" fill="#e58731"/>
<rect x="174.01" y="375.2" width="4.3" height="26.36" fill="#765e98"/>
<rect x="174.01" y="400.96" width="4.3" height="118.3" fill="#50a658"/>
<rect x="174.01" y="518.66" width="4.3" height="12.94" fill="#e58731"/>
<rect x="179.15" y="375.2" width="4.3" height="26.36" fill="#765e98"/>
<rect x="179.15" y="400.96" width="4.3" height="117.36" fill="#50a658"/>
<rect x="179.15" y="517.72" width="4.3" height="13.88" fill="#e58731"/>
<rect x="184.28" y="375.2" width="4.3" height="16.52" fill="#765e98"/>
<rect x="184.28" y="391.12" width="4.3" height="127.2" fill="#50a658"/>
<rect x="184.28" y="517.72" width="4.3" height="13.88" fill="#e58731"/>
<rect x="189.42" y="375.2" width="4.3" height="16.52" fill="#765e98"/>
<rect x="189.42" y="391.12" width="4.3" height="127.04" fill="#50a658"/>
<rect x="189.42" y="517.56" width="4.3" height="14.04" fill="#e58731"/>
<rect x="194.55" y="375.2" width="4.3" height="7.94" fill="#765e98"/>
<rect x="194.55" y="382.54" width="4.3" height="132.04" fill="#50a658"/>
<rect x="194.55" y="513.97" width="4.3" height="17.63" fill="#e58731"/>
<rect x="199.69" y="375.2" width="4.3" height="19.96" fill="#765e98"/>
<rect x="199.69" y="394.56" width="4.3" height="119.86" fill="#50a658"/>
<rect x="199.69" y="513.82" width="4.3" height="17.78" fill="#e58731"/>
<rect x="204.82" y="375.2" width="4.3" height="26.51" fill="#765e98"/>
<rect x="204.82" y="401.11" width="4.3" height="112.52" fill="#50a658"/>
<rect x="204.82" y="513.04" width="4.3" height="18.56" fill="#e58731"/>
<rect x="209.96" y="375.2" width="4.3" height="13.87" fill="#765e98"/>
<rect x="209.96" y="388.47" width="4.3" height="122.36" fill="#50a658"/>
<rect x="209.96" y="510.23" width="4.3" height="21.37" fill="#e58731"/>
<rect x="215.09" y="375.2" width="4.3" height="29.32" fill="#765e98"/>
<rect x="215.09" y="403.92" width="4.3" height="102.53" fill="#50a658"/>
<rect x="215.09" y="505.86" width="4.3" height="25.74" fill="#e58731"/>
<rect x="220.23" y="375.2" width="4.3" height="29.32" fill="#765e98"/>
<rect x="220.23" y="403.92" width="4.3" height="102.53" fill="#50a658"/>
<rect x="220.23" y="505.86" width="4.3" height="25.74" fill="#e58731"/>
<rect x="225.36" y="375.2" width="4.3" height="1.07" fill="#765e98"/>
<rect x="225.36" y="375.67" width="4.3" height="130.48" fill="#50a658"/>
<rect x="225.36" y="505.54" width="4.3" height="26.06" fill="#e58731"/>
<rect x="230.5" y="375.2" width="4.3" height="1.07" fill="#765e98"/>
<rect x="230.5" y="375.67" width="4.3" height="130.16" fill="#50a658"/>
<rect x="230.5" y="505.23" width="4.3" height="26.37" fill="#e58731"/>
<rect x="235.63" y="375.2" width="4.3" height="26.04" fill="#765e98"/>
<rect x="235.63" y="400.64" width="4.3" height="105.19" fill="#50a658"/>
<rect x="235.63" y="505.23" width="4.3" height="26.37" fill="#e58731"/>
<rect x="240.77" y="375.2" width="4.3" height="13.24" fill="#765e98"/>
<rect x="240.77" y="387.84" width="4.3" height="111.59" fill="#50a658"/>
<rect x="240.77" y="498.83" width="4.3" height="32.77" fill="#e58731"/>
<rect x="245.9" y="375.2" width="4.3" height="55.39" fill="#765e98"/>
<rect x="245.9" y="429.99" width="4.3" height="69.44" fill="#50a658"/>
<rect x="245.9" y="498.83" width="4.3" height="32.77" fill="#e58731"/>
<rect x="251.04" y="375.2" width="4.3" height="13.09" fill="#765e98"/>
<rect x="251.04" y="387.69" width="4.3" height="105.97" fill="#50a658"/>
<rect x="251.04" y="493.06" width="4.3" height="38.54" fill="#e58731"/>
<rect x="256.18" y="375.2" width="4.3" height="30.1" fill="#765e98"/>
<rect x="256.18" y="404.7" width="4.3" height="85.67" fill="#50a658"/>
<rect x="256.18" y="489.78" width="4.3" height="41.82" fill="#e58731"/>
<rect x="261.31" y="375.2" width="4.3" height="31.35" fill="#765e98"/>
<rect x="261.31" y="405.95" width="4.3" height="83.8" fill="#50a658"/>
<rect x="261.31" y="489.15" width="4.3" height="42.45" fill="#e58731"/>
<rect x="266.44" y="375.2" width="4.4" height="156.4" fill="#e58731"/>
<line x1="22.2" y1="375.4" x2="22.2" y2="531.3" stroke="#9a9a9a" stroke-width="0.8"/>
<line x1="17.8" y1="375.4" x2="22.2" y2="375.4" stroke="#5a5a5a" stroke-width="0.8"/>
<line x1="17.8" y1="453.3" x2="22.2" y2="453.3" stroke="#5a5a5a" stroke-width="0.8"/>
<line x1="17.8" y1="531.3" x2="22.2" y2="531.3" stroke="#5a5a5a" stroke-width="0.8"/>
<path d="M10.1 373.9 L12.1 372 L12.1 377.7" fill="none" stroke="#383838" stroke-width="0.95" stroke-linejoin="miter"/>
<text x="12.9" y="456.1" font-size="9.3" text-anchor="end" textLength="13.6" lengthAdjust="spacingAndGlyphs">0.5</text>
<text x="13.2" y="534.2" font-size="9.3" text-anchor="end">0</text>
<path d="M27.3 533.6 L24.6 538.9 L30 538.9 Z" fill="#111"/>
<line x1="27.3" y1="537.6" x2="27.3" y2="544.2" stroke="#111" stroke-width="1.3"/>
<path d="M268.2 533.6 L265.5 538.9 L270.9 538.9 Z" fill="#111"/>
<line x1="268.2" y1="537.6" x2="268.2" y2="544.4" stroke="#111" stroke-width="1.3"/>
<text x="10.5" y="553.8" font-size="10" textLength="35.5" lengthAdjust="spacingAndGlyphs">P78042</text>
<text x="250.8" y="553.7" font-size="10" textLength="35.5" lengthAdjust="spacingAndGlyphs">SC5314</text>
<rect x="132.4" y="537.2" width="8.9" height="8.5" fill="#765e98"/>
<text x="145.6" y="545" font-size="10.3" textLength="35.8" lengthAdjust="spacingAndGlyphs">P78042</text>
<rect x="132.4" y="552.1" width="8.9" height="8.5" fill="#50a658"/>
<text x="145.6" y="559" font-size="10.2" textLength="66" lengthAdjust="spacingAndGlyphs">Heterozygous</text>
<rect x="132.4" y="566.4" width="8.9" height="8.5" fill="#e58731"/>
<text x="145.6" y="574" font-size="10.5" textLength="35.2" lengthAdjust="spacingAndGlyphs">SC5314</text>
<text x="292" y="369.6" font-size="15.6" font-weight="bold" fill="#000">g</text>
<text transform="translate(302 456) rotate(-90)" x="0" y="0" text-anchor="middle" font-size="10.7" textLength="105.5" lengthAdjust="spacingAndGlyphs">Recombination events</text>
<line x1="330.5" y1="370.6" x2="330.5" y2="547.4" stroke="#8a8a8a" stroke-width="0.8"/>
<line x1="326.6" y1="370.6" x2="330.5" y2="370.6" stroke="#5a5a5a" stroke-width="0.8"/>
<line x1="326.6" y1="458.8" x2="330.5" y2="458.8" stroke="#5a5a5a" stroke-width="0.8"/>
<line x1="330.5" y1="547.4" x2="400.6" y2="547.4" stroke="#8a8a8a" stroke-width="0.8"/>
<text x="325" y="374.2" font-size="9.3" text-anchor="end" textLength="16.8" lengthAdjust="spacingAndGlyphs">600</text>
<text x="325" y="462.2" font-size="9.3" text-anchor="end" textLength="16.8" lengthAdjust="spacingAndGlyphs">300</text>
<circle cx="355.5" cy="376.1" r="1.05" fill="#111"/>
<circle cx="369.8" cy="383.6" r="1.05" fill="#111"/>
<circle cx="350.3" cy="424.2" r="1.05" fill="#111"/>
<circle cx="357.7" cy="420.9" r="1.05" fill="#111"/>
<circle cx="368.7" cy="428.3" r="1.05" fill="#111"/>
<circle cx="365.1" cy="445.1" r="1.05" fill="#111"/>
<circle cx="371.9" cy="465.7" r="1.05" fill="#111"/>
<circle cx="351.8" cy="473" r="1.05" fill="#111"/>
<circle cx="352.6" cy="476.1" r="1.05" fill="#111"/>
<circle cx="354.2" cy="477.7" r="1.05" fill="#111"/>
<circle cx="355.7" cy="478.2" r="1.05" fill="#111"/>
<circle cx="361.2" cy="476.2" r="1.05" fill="#111"/>
<circle cx="368.5" cy="477" r="1.05" fill="#111"/>
<circle cx="371.8" cy="474.2" r="1.05" fill="#111"/>
<circle cx="372.5" cy="477.5" r="1.05" fill="#111"/>
<circle cx="373.9" cy="477.7" r="1.05" fill="#111"/>
<circle cx="380.5" cy="477.9" r="1.05" fill="#111"/>
<circle cx="349.9" cy="479.7" r="1.05" fill="#111"/>
<circle cx="371.2" cy="481.3" r="1.05" fill="#111"/>
<circle cx="355.9" cy="484.2" r="1.05" fill="#111"/>
<circle cx="360.7" cy="483.7" r="1.05" fill="#111"/>
<circle cx="351.5" cy="487.7" r="1.05" fill="#111"/>
<circle cx="359.7" cy="489" r="1.05" fill="#111"/>
<circle cx="361.7" cy="489.6" r="1.05" fill="#111"/>
<circle cx="365" cy="488.7" r="1.05" fill="#111"/>
<circle cx="366.6" cy="490.5" r="1.05" fill="#111"/>
<circle cx="350.2" cy="491.5" r="1.05" fill="#111"/>
<circle cx="348.6" cy="495.8" r="1.05" fill="#111"/>
<circle cx="353" cy="498.9" r="1.05" fill="#111"/>
<circle cx="357.2" cy="498.7" r="1.05" fill="#111"/>
<circle cx="360.4" cy="496.3" r="1.05" fill="#111"/>
<circle cx="365.5" cy="496" r="1.05" fill="#111"/>
<circle cx="369.1" cy="497.7" r="1.05" fill="#111"/>
<circle cx="371" cy="493.6" r="1.05" fill="#111"/>
<circle cx="372.5" cy="494.7" r="1.05" fill="#111"/>
<circle cx="374.7" cy="493" r="1.05" fill="#111"/>
<circle cx="377.2" cy="491" r="1.05" fill="#111"/>
<circle cx="381.2" cy="491.2" r="1.05" fill="#111"/>
<circle cx="377.2" cy="496.5" r="1.05" fill="#111"/>
<circle cx="349.5" cy="495.2" r="1.05" fill="#111"/>
<circle cx="351" cy="487.9" r="1.05" fill="#111"/>
<text x="368.5" y="559.2" font-size="8.6" text-anchor="middle" textLength="65.4" lengthAdjust="spacingAndGlyphs">SC5314×P78042</text>
<text x="349.5" y="573.9" font-size="10.7" textLength="38.8" lengthAdjust="spacingAndGlyphs">progeny</text>
<text x="414.3" y="369.6" font-size="15.6" font-weight="bold" fill="#000">h</text>
<text transform="translate(423.5 468.7) rotate(-90)" x="0" y="0" text-anchor="middle" font-size="10.7" textLength="101.6" lengthAdjust="spacingAndGlyphs">Number of fragments</text>
<rect x="459.7" y="411.6" width="2.46" height="135.7" fill="#ab4f99" stroke="#2a1027" stroke-width="0.4"/>
<rect x="462.16" y="536.2" width="2.46" height="11.1" fill="#ab4f99" stroke="#2a1027" stroke-width="0.4"/>
<rect x="464.62" y="535.3" width="2.46" height="12" fill="#ab4f99" stroke="#2a1027" stroke-width="0.4"/>
<rect x="467.08" y="537.2" width="2.46" height="10.1" fill="#ab4f99" stroke="#2a1027" stroke-width="0.4"/>
<rect x="469.54" y="541.5" width="2.46" height="5.8" fill="#ab4f99" stroke="#2a1027" stroke-width="0.4"/>
<rect x="472" y="542.4" width="2.46" height="4.9" fill="#ab4f99" stroke="#2a1027" stroke-width="0.4"/>
<rect x="474.46" y="543.4" width="2.46" height="3.9" fill="#ab4f99" stroke="#2a1027" stroke-width="0.4"/>
<rect x="476.92" y="544" width="2.46" height="3.3" fill="#ab4f99" stroke="#2a1027" stroke-width="0.4"/>
<rect x="479.38" y="544" width="2.46" height="3.3" fill="#ab4f99" stroke="#2a1027" stroke-width="0.4"/>
<rect x="481.84" y="544.5" width="2.46" height="2.8" fill="#ab4f99" stroke="#2a1027" stroke-width="0.4"/>
<rect x="484.3" y="545.7" width="2.46" height="1.6" fill="#ab4f99" stroke="#2a1027" stroke-width="0.4"/>
<rect x="486.76" y="546.2" width="2.46" height="1.1" fill="#ab4f99" stroke="#2a1027" stroke-width="0.4"/>
<rect x="489.22" y="546.8" width="2.46" height="0.5" fill="#ab4f99" stroke="#2a1027" stroke-width="0.4"/>
<rect x="491.68" y="546.8" width="2.46" height="0.5" fill="#ab4f99" stroke="#2a1027" stroke-width="0.4"/>
<rect x="494.14" y="545.7" width="2.46" height="1.6" fill="#ab4f99" stroke="#2a1027" stroke-width="0.4"/>
<rect x="496.6" y="545.7" width="2.46" height="1.6" fill="#ab4f99" stroke="#2a1027" stroke-width="0.4"/>
<rect x="499.06" y="545.9" width="2.46" height="1.4" fill="#ab4f99" stroke="#2a1027" stroke-width="0.4"/>
<rect x="501.52" y="545.9" width="2.46" height="1.4" fill="#ab4f99" stroke="#2a1027" stroke-width="0.4"/>
<rect x="503.98" y="545.9" width="2.46" height="1.4" fill="#ab4f99" stroke="#2a1027" stroke-width="0.4"/>
<rect x="506.44" y="546" width="2.46" height="1.3" fill="#ab4f99" stroke="#2a1027" stroke-width="0.4"/>
<rect x="508.9" y="546.2" width="2.46" height="1.1" fill="#ab4f99" stroke="#2a1027" stroke-width="0.4"/>
<rect x="511.36" y="546.8" width="2.46" height="0.5" fill="#ab4f99" stroke="#2a1027" stroke-width="0.4"/>
<rect x="513.82" y="547" width="2.46" height="0.3" fill="#ab4f99" stroke="#2a1027" stroke-width="0.4"/>
<rect x="516.28" y="547" width="2.46" height="0.3" fill="#ab4f99" stroke="#2a1027" stroke-width="0.4"/>
<rect x="518.74" y="546.8" width="2.46" height="0.5" fill="#ab4f99" stroke="#2a1027" stroke-width="0.4"/>
<rect x="521.2" y="547" width="2.46" height="0.3" fill="#ab4f99" stroke="#2a1027" stroke-width="0.4"/>
<rect x="523.66" y="547" width="2.46" height="0.3" fill="#ab4f99" stroke="#2a1027" stroke-width="0.4"/>
<rect x="526.12" y="546.8" width="2.46" height="0.5" fill="#ab4f99" stroke="#2a1027" stroke-width="0.4"/>
<rect x="528.58" y="545.6" width="2.46" height="1.7" fill="#ab4f99" stroke="#2a1027" stroke-width="0.4"/>
<rect x="531.04" y="546.9" width="2.46" height="0.4" fill="#ab4f99" stroke="#2a1027" stroke-width="0.4"/>
<rect x="535.96" y="547" width="2.46" height="0.3" fill="#ab4f99" stroke="#2a1027" stroke-width="0.4"/>
<rect x="538.42" y="547" width="2.46" height="0.3" fill="#ab4f99" stroke="#2a1027" stroke-width="0.4"/>
<rect x="543.34" y="547" width="2.46" height="0.3" fill="#ab4f99" stroke="#2a1027" stroke-width="0.4"/>
<rect x="545.8" y="545.5" width="2.46" height="1.8" fill="#ab4f99" stroke="#2a1027" stroke-width="0.4"/>
<rect x="548.26" y="547" width="2.46" height="0.3" fill="#ab4f99" stroke="#2a1027" stroke-width="0.4"/>
<rect x="555.64" y="547" width="2.46" height="0.3" fill="#ab4f99" stroke="#2a1027" stroke-width="0.4"/>
<rect x="558.1" y="547" width="2.46" height="0.3" fill="#ab4f99" stroke="#2a1027" stroke-width="0.4"/>
<rect x="560.56" y="546.9" width="2.46" height="0.4" fill="#ab4f99" stroke="#2a1027" stroke-width="0.4"/>
<rect x="563.02" y="547" width="2.46" height="0.3" fill="#ab4f99" stroke="#2a1027" stroke-width="0.4"/>
<rect x="570.4" y="547" width="2.46" height="0.3" fill="#ab4f99" stroke="#2a1027" stroke-width="0.4"/>
<rect x="572.86" y="547" width="2.46" height="0.3" fill="#ab4f99" stroke="#2a1027" stroke-width="0.4"/>
<rect x="577.78" y="547" width="2.46" height="0.3" fill="#ab4f99" stroke="#2a1027" stroke-width="0.4"/>
<line x1="459.6" y1="396.5" x2="459.6" y2="547.4" stroke="#8a8a8a" stroke-width="0.8"/>
<line x1="455.6" y1="396.5" x2="459.6" y2="396.5" stroke="#5a5a5a" stroke-width="0.8"/>
<line x1="455.6" y1="472.1" x2="459.6" y2="472.1" stroke="#5a5a5a" stroke-width="0.8"/>
<line x1="459.6" y1="547.2" x2="683.7" y2="547.2" stroke="#8a8a8a" stroke-width="0.8"/>
<line x1="460.3" y1="547.2" x2="460.3" y2="549.4" stroke="#5a5a5a" stroke-width="0.8"/>
<line x1="521.5" y1="547.2" x2="521.5" y2="549.4" stroke="#5a5a5a" stroke-width="0.8"/>
<line x1="583" y1="547.2" x2="583" y2="549.4" stroke="#5a5a5a" stroke-width="0.8"/>
<line x1="644.6" y1="547.2" x2="644.6" y2="549.4" stroke="#5a5a5a" stroke-width="0.8"/>
<text x="454.3" y="399.4" font-size="9.3" text-anchor="end" textLength="24.3" lengthAdjust="spacingAndGlyphs">7,000</text>
<text x="454.3" y="475" font-size="9.3" text-anchor="end" textLength="24.3" lengthAdjust="spacingAndGlyphs">3,500</text>
<text x="459.6" y="559.6" font-size="9.3" text-anchor="middle">0</text>
<text x="522" y="559.6" font-size="9.3" text-anchor="middle">250</text>
<text x="583.8" y="559.6" font-size="9.3" text-anchor="middle">500</text>
<text x="645.5" y="559.6" font-size="9.3" text-anchor="middle">750</text>
<text x="482.6" y="574.3" font-size="10.7" textLength="172.5" lengthAdjust="spacingAndGlyphs">Recombination fragment length (kb)</text>
<text x="-0.5" y="605.8" font-size="15.6" font-weight="bold" fill="#000">i</text>
<circle cx="143.1" cy="732.8" r="119.2" fill="none" stroke="#e58731" stroke-width="6.2"/>
<circle cx="143.1" cy="732.8" r="100.9" fill="none" stroke="#e58731" stroke-width="5.8"/>
<circle cx="143.1" cy="732.8" r="91.5" fill="none" stroke="#e58731" stroke-width="6.2"/>
<circle cx="143.1" cy="732.8" r="82.5" fill="none" stroke="#e58731" stroke-width="5.8"/>
<path d="M162.44 661.88 A72.9 72.9 0 0 1 213.45 751.68" fill="none" stroke="#e58731" stroke-width="6.3"/>
<path d="M210.3 760.68 A72.9 72.9 0 0 1 110.56 797.38" fill="none" stroke="#e58731" stroke-width="6.3"/>
<path d="M110.56 797.38 A72.9 72.9 0 0 1 162.44 661.88" fill="none" stroke="#765e98" stroke-width="6.3"/>
<path d="M213.45 751.68 A72.9 72.9 0 0 1 210.3 760.68" fill="none" stroke="#765e98" stroke-width="6.3"/>
<circle cx="143" cy="732.6" r="64.1" fill="none" stroke="#765e98" stroke-width="6.1"/>
<circle cx="143.1" cy="732.4" r="45.8" fill="none" stroke="#765e98" stroke-width="5.5"/>
<circle cx="130.35" cy="660.44" r="1.35" fill="#fff" stroke="#000" stroke-width="0.8"/>
<circle cx="136.17" cy="659.64" r="1.35" fill="#fff" stroke="#000" stroke-width="0.8"/>
<circle cx="138.17" cy="659.47" r="1.35" fill="#fff" stroke="#000" stroke-width="0.8"/>
<circle cx="140.18" cy="659.36" r="1.35" fill="#fff" stroke="#000" stroke-width="0.8"/>
<circle cx="142.19" cy="659.31" r="1.35" fill="#fff" stroke="#000" stroke-width="0.8"/>
<circle cx="144.41" cy="659.31" r="1.35" fill="#fff" stroke="#000" stroke-width="0.8"/>
<circle cx="150.58" cy="659.67" r="1.35" fill="#fff" stroke="#000" stroke-width="0.8"/>
<circle cx="154.06" cy="660.11" r="1.35" fill="#fff" stroke="#000" stroke-width="0.8"/>
<circle cx="158.77" cy="660.98" r="1.35" fill="#fff" stroke="#000" stroke-width="0.8"/>
<circle cx="116.86" cy="664.23" r="1.35" fill="#fff" stroke="#000" stroke-width="0.8"/>
<circle cx="112.21" cy="666.21" r="1.35" fill="#fff" stroke="#000" stroke-width="0.8"/>
<circle cx="106.86" cy="669" r="1.35" fill="#fff" stroke="#000" stroke-width="0.8"/>
<circle cx="98.43" cy="674.67" r="1.35" fill="#fff" stroke="#000" stroke-width="0.8"/>
<circle cx="90.33" cy="682.01" r="1.35" fill="#fff" stroke="#000" stroke-width="0.8"/>
<circle cx="82.65" cy="691.6" r="1.35" fill="#fff" stroke="#000" stroke-width="0.8"/>
<circle cx="80.43" cy="695.13" r="1.35" fill="#fff" stroke="#000" stroke-width="0.8"/>
<circle cx="78.2" cy="699.2" r="1.35" fill="#fff" stroke="#000" stroke-width="0.8"/>
<circle cx="76.82" cy="702.06" r="1.35" fill="#fff" stroke="#000" stroke-width="0.8"/>
<circle cx="74.46" cy="707.93" r="1.35" fill="#fff" stroke="#000" stroke-width="0.8"/>
<circle cx="72.83" cy="713.16" r="1.35" fill="#fff" stroke="#000" stroke-width="0.8"/>
<circle cx="71.96" cy="716.72" r="1.35" fill="#fff" stroke="#000" stroke-width="0.8"/>
<circle cx="70.51" cy="737.75" r="1.35" fill="#fff" stroke="#000" stroke-width="0.8"/>
<circle cx="71.1" cy="742.98" r="1.35" fill="#fff" stroke="#000" stroke-width="0.8"/>
<circle cx="72.22" cy="748.81" r="1.35" fill="#fff" stroke="#000" stroke-width="0.8"/>
<circle cx="73.6" cy="753.89" r="1.35" fill="#fff" stroke="#000" stroke-width="0.8"/>
<circle cx="74.27" cy="755.93" r="1.35" fill="#fff" stroke="#000" stroke-width="0.8"/>
<circle cx="75.01" cy="757.99" r="1.35" fill="#fff" stroke="#000" stroke-width="0.8"/>
<circle cx="76.95" cy="762.61" r="1.35" fill="#fff" stroke="#000" stroke-width="0.8"/>
<circle cx="79.87" cy="768.3" r="1.35" fill="#fff" stroke="#000" stroke-width="0.8"/>
<circle cx="83.16" cy="773.55" r="1.35" fill="#fff" stroke="#000" stroke-width="0.8"/>
<circle cx="92.45" cy="784.53" r="1.35" fill="#fff" stroke="#000" stroke-width="0.8"/>
<circle cx="104.45" cy="793.95" r="1.35" fill="#fff" stroke="#000" stroke-width="0.8"/>
<circle cx="106.94" cy="795.44" r="1.35" fill="#fff" stroke="#000" stroke-width="0.8"/>
<circle cx="212.04" cy="756.18" r="1.35" fill="#fff" stroke="#000" stroke-width="0.8"/>
<circle cx="130.95" cy="669.64" r="1.35" fill="#fff" stroke="#000" stroke-width="0.8"/>
<circle cx="136.22" cy="668.86" r="1.35" fill="#fff" stroke="#000" stroke-width="0.8"/>
<circle cx="138.2" cy="668.68" r="1.35" fill="#fff" stroke="#000" stroke-width="0.8"/>
<circle cx="140.19" cy="668.56" r="1.35" fill="#fff" stroke="#000" stroke-width="0.8"/>
<circle cx="142.2" cy="668.51" r="1.35" fill="#fff" stroke="#000" stroke-width="0.8"/>
<circle cx="144.4" cy="668.52" r="1.35" fill="#fff" stroke="#000" stroke-width="0.8"/>
<circle cx="149.31" cy="668.81" r="1.35" fill="#fff" stroke="#000" stroke-width="0.8"/>
<circle cx="152.75" cy="669.25" r="1.35" fill="#fff" stroke="#000" stroke-width="0.8"/>
<circle cx="156.92" cy="670.03" r="1.35" fill="#fff" stroke="#000" stroke-width="0.8"/>
<circle cx="164.69" cy="672.28" r="1.35" fill="#fff" stroke="#000" stroke-width="0.8"/>
<circle cx="167.65" cy="673.43" r="1.35" fill="#fff" stroke="#000" stroke-width="0.8"/>
<circle cx="170.78" cy="674.83" r="1.35" fill="#fff" stroke="#000" stroke-width="0.8"/>
<circle cx="173.84" cy="676.41" r="1.35" fill="#fff" stroke="#000" stroke-width="0.8"/>
<circle cx="119.9" cy="672.81" r="1.35" fill="#fff" stroke="#000" stroke-width="0.8"/>
<circle cx="116.32" cy="674.32" r="1.35" fill="#fff" stroke="#000" stroke-width="0.8"/>
<circle cx="111.6" cy="676.72" r="1.35" fill="#fff" stroke="#000" stroke-width="0.8"/>
<circle cx="103.65" cy="682" r="1.35" fill="#fff" stroke="#000" stroke-width="0.8"/>
<circle cx="96.74" cy="688.23" r="1.35" fill="#fff" stroke="#000" stroke-width="0.8"/>
<circle cx="89.77" cy="696.88" r="1.35" fill="#fff" stroke="#000" stroke-width="0.8"/>
<circle cx="87.98" cy="699.71" r="1.35" fill="#fff" stroke="#000" stroke-width="0.8"/>
<circle cx="85.71" cy="703.85" r="1.35" fill="#fff" stroke="#000" stroke-width="0.8"/>
<circle cx="84.58" cy="706.23" r="1.35" fill="#fff" stroke="#000" stroke-width="0.8"/>
<circle cx="82.73" cy="710.78" r="1.35" fill="#fff" stroke="#000" stroke-width="0.8"/>
<circle cx="81.22" cy="715.52" r="1.35" fill="#fff" stroke="#000" stroke-width="0.8"/>
<circle cx="80.24" cy="719.57" r="1.35" fill="#fff" stroke="#000" stroke-width="0.8"/>
<circle cx="79.07" cy="737.28" r="1.35" fill="#fff" stroke="#000" stroke-width="0.8"/>
<circle cx="79.65" cy="742.4" r="1.35" fill="#fff" stroke="#000" stroke-width="0.8"/>
<circle cx="80.57" cy="747.12" r="1.35" fill="#fff" stroke="#000" stroke-width="0.8"/>
<circle cx="81.88" cy="751.91" r="1.35" fill="#fff" stroke="#000" stroke-width="0.8"/>
<circle cx="82.95" cy="755.01" r="1.35" fill="#fff" stroke="#000" stroke-width="0.8"/>
<circle cx="84.73" cy="759.3" r="1.35" fill="#fff" stroke="#000" stroke-width="0.8"/>
<circle cx="87.04" cy="763.86" r="1.35" fill="#fff" stroke="#000" stroke-width="0.8"/>
<circle cx="90.1" cy="768.8" r="1.35" fill="#fff" stroke="#000" stroke-width="0.8"/>
<circle cx="98.08" cy="778.33" r="1.35" fill="#fff" stroke="#000" stroke-width="0.8"/>
<circle cx="108.41" cy="786.57" r="1.35" fill="#fff" stroke="#000" stroke-width="0.8"/>
<circle cx="111.06" cy="788.17" r="1.35" fill="#fff" stroke="#000" stroke-width="0.8"/>
<circle cx="121.05" cy="792.83" r="1.35" fill="#fff" stroke="#000" stroke-width="0.8"/>
<circle cx="206.93" cy="737.28" r="1.35" fill="#fff" stroke="#000" stroke-width="0.8"/>
<circle cx="205.57" cy="746.51" r="1.35" fill="#fff" stroke="#000" stroke-width="0.8"/>
<circle cx="203.75" cy="753.05" r="1.35" fill="#fff" stroke="#000" stroke-width="0.8"/>
<circle cx="197.41" cy="766.49" r="1.35" fill="#fff" stroke="#000" stroke-width="0.8"/>
<circle cx="196.85" cy="767.37" r="1.35" fill="#fff" stroke="#000" stroke-width="0.8"/>
<circle cx="196.31" cy="768.2" r="1.35" fill="#fff" stroke="#000" stroke-width="0.8"/>
<circle cx="186.78" cy="779.42" r="1.35" fill="#fff" stroke="#000" stroke-width="0.8"/>
<circle cx="186.59" cy="779.59" r="1.35" fill="#fff" stroke="#000" stroke-width="0.8"/>
<circle cx="133.81" cy="687.55" r="1.35" fill="#fff" stroke="#000" stroke-width="0.8"/>
<circle cx="136.37" cy="687.1" r="1.35" fill="#fff" stroke="#000" stroke-width="0.8"/>
<circle cx="138.89" cy="686.79" r="1.35" fill="#fff" stroke="#000" stroke-width="0.8"/>
<circle cx="141.45" cy="686.63" r="1.35" fill="#fff" stroke="#000" stroke-width="0.8"/>
<circle cx="144.03" cy="686.61" r="1.35" fill="#fff" stroke="#000" stroke-width="0.8"/>
<circle cx="146.6" cy="686.73" r="1.35" fill="#fff" stroke="#000" stroke-width="0.8"/>
<circle cx="149.13" cy="687" r="1.35" fill="#fff" stroke="#000" stroke-width="0.8"/>
<circle cx="151.61" cy="687.4" r="1.35" fill="#fff" stroke="#000" stroke-width="0.8"/>
<circle cx="154.02" cy="687.92" r="1.35" fill="#fff" stroke="#000" stroke-width="0.8"/>
<circle cx="157.74" cy="689" r="1.35" fill="#fff" stroke="#000" stroke-width="0.8"/>
<circle cx="161.57" cy="690.49" r="1.35" fill="#fff" stroke="#000" stroke-width="0.8"/>
<circle cx="165.26" cy="692.32" r="1.35" fill="#fff" stroke="#000" stroke-width="0.8"/>
<circle cx="126.65" cy="689.66" r="1.35" fill="#fff" stroke="#000" stroke-width="0.8"/>
<circle cx="123.95" cy="690.79" r="1.35" fill="#fff" stroke="#000" stroke-width="0.8"/>
<circle cx="120.22" cy="692.72" r="1.35" fill="#fff" stroke="#000" stroke-width="0.8"/>
<circle cx="114.9" cy="696.31" r="1.35" fill="#fff" stroke="#000" stroke-width="0.8"/>
<circle cx="110.21" cy="700.52" r="1.35" fill="#fff" stroke="#000" stroke-width="0.8"/>
<circle cx="104.99" cy="706.99" r="1.35" fill="#fff" stroke="#000" stroke-width="0.8"/>
<circle cx="102.94" cy="710.39" r="1.35" fill="#fff" stroke="#000" stroke-width="0.8"/>
<circle cx="101.42" cy="713.43" r="1.35" fill="#fff" stroke="#000" stroke-width="0.8"/>
<circle cx="99.91" cy="717.17" r="1.35" fill="#fff" stroke="#000" stroke-width="0.8"/>
<circle cx="98.7" cy="721.15" r="1.35" fill="#fff" stroke="#000" stroke-width="0.8"/>
<circle cx="98.16" cy="723.57" r="1.35" fill="#fff" stroke="#000" stroke-width="0.8"/>
<circle cx="97.45" cy="736.12" r="1.35" fill="#fff" stroke="#000" stroke-width="0.8"/>
<circle cx="97.82" cy="739.28" r="1.35" fill="#fff" stroke="#000" stroke-width="0.8"/>
<circle cx="98.39" cy="742.35" r="1.35" fill="#fff" stroke="#000" stroke-width="0.8"/>
<circle cx="99.55" cy="746.58" r="1.35" fill="#fff" stroke="#000" stroke-width="0.8"/>
<circle cx="101.35" cy="751.23" r="1.35" fill="#fff" stroke="#000" stroke-width="0.8"/>
<circle cx="102.58" cy="753.76" r="1.35" fill="#fff" stroke="#000" stroke-width="0.8"/>
<circle cx="104.07" cy="756.36" r="1.35" fill="#fff" stroke="#000" stroke-width="0.8"/>
<circle cx="105.6" cy="758.69" r="1.35" fill="#fff" stroke="#000" stroke-width="0.8"/>
<circle cx="111.17" cy="765.23" r="1.35" fill="#fff" stroke="#000" stroke-width="0.8"/>
<circle cx="118.67" cy="771.14" r="1.35" fill="#fff" stroke="#000" stroke-width="0.8"/>
<circle cx="120.08" cy="771.99" r="1.35" fill="#fff" stroke="#000" stroke-width="0.8"/>
<circle cx="127.42" cy="775.43" r="1.35" fill="#fff" stroke="#000" stroke-width="0.8"/>
<circle cx="188.75" cy="736.12" r="1.35" fill="#fff" stroke="#000" stroke-width="0.8"/>
<circle cx="187.75" cy="742.6" r="1.35" fill="#fff" stroke="#000" stroke-width="0.8"/>
<circle cx="186.41" cy="747.31" r="1.35" fill="#fff" stroke="#000" stroke-width="0.8"/>
<circle cx="181.77" cy="756.94" r="1.35" fill="#fff" stroke="#000" stroke-width="0.8"/>
<circle cx="181.13" cy="757.92" r="1.35" fill="#fff" stroke="#000" stroke-width="0.8"/>
<circle cx="173.73" cy="766.45" r="1.35" fill="#fff" stroke="#000" stroke-width="0.8"/>
<circle cx="174.15" cy="766.07" r="1.35" fill="#fff" stroke="#000" stroke-width="0.8"/>
<rect x="231.1" y="609.1" width="9" height="8.4" fill="#e58731"/>
<rect x="231.1" y="625.9" width="9" height="8.6" fill="#765e98"/>
<text x="244.8" y="616" font-size="10" textLength="35.9" lengthAdjust="spacingAndGlyphs">SC5314</text>
<text x="244.8" y="632.8" font-size="10" textLength="23.1" lengthAdjust="spacingAndGlyphs">529L</text>
<text x="306.6" y="604.9" font-size="15.6" font-weight="bold" fill="#000">j</text>
<text x="439.2" y="608.7" font-size="10.7" textLength="76.7" lengthAdjust="spacingAndGlyphs">Recombinations</text>
<rect x="374.7" y="616.6" width="9.4" height="6.8" fill="#000"/>
<rect x="392.7" y="616.6" width="1.2" height="6.8" fill="#000"/>
<rect x="398.8" y="616.6" width="9.8" height="6.8" fill="#000"/>
<rect x="419.1" y="616.6" width="3.5" height="6.8" fill="#000"/>
<rect x="428.9" y="616.6" width="3.8" height="6.8" fill="#000"/>
<rect x="446" y="616.6" width="1.4" height="6.8" fill="#000"/>
<rect x="465" y="616.6" width="5.2" height="6.8" fill="#000"/>
<rect x="472.8" y="616.6" width="2.1" height="6.8" fill="#000"/>
<rect x="482.6" y="616.6" width="5.2" height="6.8" fill="#000"/>
<rect x="489.9" y="616.6" width="3.2" height="6.8" fill="#000"/>
<rect x="523.3" y="616.6" width="7.3" height="6.8" fill="#000"/>
<rect x="553.5" y="616.6" width="3.9" height="6.8" fill="#000"/>
<rect x="506.2" y="616.6" width="1" height="6.8" fill="#555"/>
<line x1="363.1" y1="626.3" x2="589.8" y2="626.3" stroke="#333" stroke-width="0.9"/>
<line x1="363.1" y1="626.3" x2="363.1" y2="628.6" stroke="#333" stroke-width="0.9"/>
<line x1="408.6" y1="626.3" x2="408.6" y2="628.6" stroke="#333" stroke-width="0.9"/>
<line x1="453.1" y1="626.3" x2="453.1" y2="628.6" stroke="#333" stroke-width="0.9"/>
<line x1="498.3" y1="626.3" x2="498.3" y2="628.6" stroke="#333" stroke-width="0.9"/>
<line x1="544.3" y1="626.3" x2="544.3" y2="628.6" stroke="#333" stroke-width="0.9"/>
<line x1="589.8" y1="626.3" x2="589.8" y2="628.6" stroke="#333" stroke-width="0.9"/>
<rect x="392.95" y="630" width="0.9" height="6.6" fill="#c266b0"/>
<rect x="401.65" y="630" width="1.1" height="6.6" fill="#b94fa6"/>
<rect x="419.2" y="630" width="2.6" height="6.6" fill="#b04a9e"/>
<rect x="489.05" y="630" width="0.7" height="6.6" fill="#e3b9dc"/>
<rect x="505.2" y="630" width="1" height="6.6" fill="#c266b0"/>
<rect x="528.75" y="630" width="1.1" height="6.6" fill="#b04a9e"/>
<rect x="545.35" y="630" width="1.1" height="6.6" fill="#b04a9e"/>
<text x="322.7" y="639.5" font-size="10.5" textLength="67.9" lengthAdjust="spacingAndGlyphs">Chr. R: 500 kb</text>
<text x="575.3" y="639.7" font-size="10.5" textLength="32.9" lengthAdjust="spacingAndGlyphs">700 kb</text>
<text x="457.6" y="647.6" font-size="10.5" textLength="37.6" lengthAdjust="spacingAndGlyphs">Repeats</text>
<text x="305.3" y="685.2" font-size="15.6" font-weight="bold" fill="#000">k</text>
<text transform="translate(335.4 728) rotate(-90)" x="0" y="0" text-anchor="middle" font-size="10.7" textLength="81.9" lengthAdjust="spacingAndGlyphs">Median minimum</text>
<text transform="translate(347.2 728) rotate(-90)" x="0" y="0" text-anchor="middle" font-size="10.7" textLength="40.9" lengthAdjust="spacingAndGlyphs">distance</text>
<line x1="395.4" y1="687.5" x2="395.4" y2="776.6" stroke="#8a8a8a" stroke-width="0.8"/>
<line x1="393.2" y1="689.9" x2="395.4" y2="689.9" stroke="#5a5a5a" stroke-width="0.8"/>
<text x="388.4" y="693.2" font-size="9.3" text-anchor="end" textLength="33.3" lengthAdjust="spacingAndGlyphs">120,000</text>
<line x1="393.2" y1="710.8" x2="395.4" y2="710.8" stroke="#5a5a5a" stroke-width="0.8"/>
<text x="388.4" y="714.1" font-size="9.3" text-anchor="end" textLength="29.8" lengthAdjust="spacingAndGlyphs">90,000</text>
<line x1="393.2" y1="731.3" x2="395.4" y2="731.3" stroke="#5a5a5a" stroke-width="0.8"/>
<text x="388.4" y="734.6" font-size="9.3" text-anchor="end" textLength="29.8" lengthAdjust="spacingAndGlyphs">60,000</text>
<line x1="393.2" y1="752.1" x2="395.4" y2="752.1" stroke="#5a5a5a" stroke-width="0.8"/>
<text x="388.4" y="755.4" font-size="9.3" text-anchor="end" textLength="29.8" lengthAdjust="spacingAndGlyphs">30,000</text>
<line x1="393.2" y1="772.9" x2="395.4" y2="772.9" stroke="#5a5a5a" stroke-width="0.8"/>
<text x="388.4" y="776.2" font-size="9.3" text-anchor="end">0</text>
<line x1="395.4" y1="776.5" x2="553.9" y2="776.5" stroke="#8a8a8a" stroke-width="0.8"/>
<line x1="438.9" y1="776.5" x2="438.9" y2="778.6" stroke="#5a5a5a" stroke-width="0.8"/>
<line x1="510.9" y1="776.5" x2="510.9" y2="778.6" stroke="#5a5a5a" stroke-width="0.8"/>
<rect x="438.8" y="684.2" width="72.1" height="1.6" fill="#222"/>
<text x="474.6" y="686.2" font-size="12" text-anchor="middle">*</text>
<rect x="411.7" y="757.3" width="53.7" height="13.6" fill="#fff" stroke="#9a9a9a" stroke-width="0.8"/>
<line x1="411.7" y1="766" x2="465.4" y2="766" stroke="#666" stroke-width="0.9"/>
<line x1="438.9" y1="737.4" x2="438.9" y2="757.3" stroke="#999" stroke-width="0.9"/>
<rect x="437.9" y="691" width="2" height="46.5" fill="#333"/>
<rect x="483.4" y="759.3" width="55.1" height="11.9" fill="#fff" stroke="#9a9a9a" stroke-width="0.8"/>
<line x1="483.4" y1="768.1" x2="538.5" y2="768.1" stroke="#777" stroke-width="0.9"/>
<line x1="510.9" y1="740.5" x2="510.9" y2="759.3" stroke="#999" stroke-width="0.9"/>
<rect x="510.3" y="716" width="1.2" height="1" fill="#444"/>
<rect x="510.3" y="717.8" width="1.2" height="1" fill="#444"/>
<rect x="510.3" y="719.6" width="1.2" height="1" fill="#444"/>
<rect x="510.3" y="725.5" width="1.2" height="1" fill="#444"/>
<rect x="510.3" y="727" width="1.2" height="1" fill="#444"/>
<rect x="510.3" y="728.4" width="1.2" height="1" fill="#444"/>
<rect x="510.3" y="730" width="1.2" height="1" fill="#444"/>
<rect x="510.3" y="731.5" width="1.2" height="1" fill="#444"/>
<rect x="510.3" y="733.2" width="1.2" height="1" fill="#444"/>
<rect x="510.3" y="734.5" width="1.2" height="1" fill="#444"/>
<rect x="510.3" y="735.6" width="1.2" height="1" fill="#444"/>
<rect x="510.3" y="736.8" width="1.2" height="1" fill="#444"/>
<rect x="510.3" y="738" width="1.2" height="1" fill="#444"/>
<rect x="510.3" y="739.2" width="1.2" height="1" fill="#444"/>
<text x="420.6" y="790.1" font-size="10.6" textLength="39.2" lengthAdjust="spacingAndGlyphs">Random</text>
<text x="495.8" y="790.1" font-size="10.6" textLength="29.9" lengthAdjust="spacingAndGlyphs">Actual</text>
</svg>
</body></html>
